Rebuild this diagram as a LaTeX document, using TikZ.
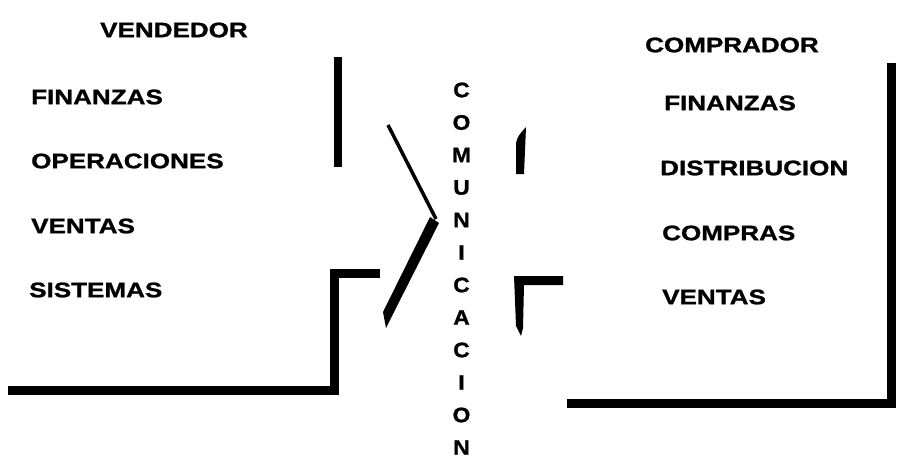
\documentclass[tikz,border=0pt]{standalone}
\usepackage{fontspec}
\newfontfamily\labw{Liberation Sans}[FakeStretch=1.24,FakeBold=1.2]
\newfontfamily\labn{Liberation Sans}[FakeStretch=1.08,FakeBold=1.2]
\begin{document}
\begin{tikzpicture}[x=1pt,y=-1pt,
  word/.style={font=\labw\bfseries\fontsize{21}{24}\selectfont, inner sep=0pt, anchor=west},
  letter/.style={font=\labn\bfseries\fontsize{21}{24}\selectfont, inner sep=0pt},
  bar/.style={line width=9pt, line join=miter, line cap=butt}]
\useasboundingbox[fill=white] (0,0) rectangle (899,464);
% left side
\node[word, anchor=center] (vend) at (174,30) {VENDEDOR};
\node[word] (lfin) at (31,97) {FINANZAS};
\node[word] (lope) at (31,161) {OPERACIONES};
\node[word] (lven) at (31,226) {VENTAS};
\node[word] (lsis) at (29,290) {SISTEMAS};
% right side
\node[word] (comp) at (645,45) {COMPRADOR};
\node[word] (rfin) at (664,103) {FINANZAS};
\node[word] (rdis) at (660,168) {DISTRIBUCION};
\node[word] (rcom) at (662,233) {COMPRAS};
\node[word] (rven) at (662,297) {VENTAS};
% vertical word
\foreach \l [count=\i] in {C,O,M,U,N,I,C,A,C,I,O,N}
  \node[letter] (c\i) at (461.5,{90+32.5*(\i-1)}) {\l};
% strokes
\draw[bar, line width=8pt] (338,57) -- (338,167);
\draw[bar] (380,273) -| (334,390) -- (8,390);
\draw[line width=3.5pt] (388,125) -- (436,219);
\fill (430,217) -- (439,223) -- (393,314) -- (386,328) -- (383,312) -- cycle;
\fill (526,127) -- (524,174) -- (516,174) -- (516,143) .. controls (518,136) .. (526,127) -- cycle;
\fill (514,276) -- (563,276) -- (563,285) -- (524,285) -- (523,328) -- (521,336) -- (516,326) -- cycle;
\draw[bar] (891,63) -- (891,403) -- (567,403);
\end{tikzpicture}
\end{document}
